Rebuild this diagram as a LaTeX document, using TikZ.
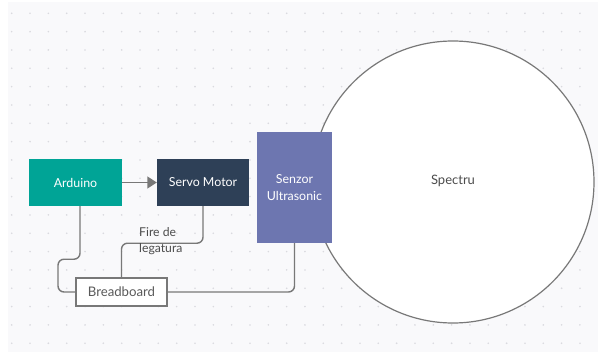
\documentclass[tikz,border=0pt]{standalone}
\usepackage{fontspec}
\setmainfont{Lato}
\usepackage{tikz}
\definecolor{bgpaper}{RGB}{249, 249, 251}
\definecolor{griddot}{RGB}{218, 218, 223}
\definecolor{wiregray}{RGB}{120, 120, 120}
\definecolor{tealbox}{RGB}{0, 164, 150}
\definecolor{navybox}{RGB}{46, 64, 87}
\definecolor{purplebox}{RGB}{109, 118, 176}
\usetikzlibrary{arrows.meta, positioning}

\begin{document}
\begin{tikzpicture}[
    x=1pt, y=-1pt,
    box/.style={rectangle, draw=none, text=white, font=\fontsize{12.4}{16.5}\selectfont, align=center, inner sep=0pt},
    wire/.style={draw=wiregray, line width=1.4pt, rounded corners=6pt},
    arrow/.style={wire, -{Triangle[length=9.5pt, width=12pt]}}
]
    \useasboundingbox (0, 0) rectangle (598, 356);
    % Background
    \fill[bgpaper] (8, 2) rectangle (598, 352);
    \foreach \i in {0,...,31} {
        \foreach \j in {0,...,18} {
            \fill[griddot] (11.7 + 18.33*\i, 13.3 + 18.33*\j) circle (0.9pt);
        }
    }

    \node[circle, draw=wiregray, line width=1.2pt, fill=white, minimum size=282pt, inner sep=0pt, font=\fontsize{13}{15}\selectfont, text=black!70] (spectru) at (453, 182) {\raisebox{4pt}{Spectru}};

    \node[box, fill=tealbox, minimum width=93pt, minimum height=47pt] (arduino) at (75.5, 182.5) {Arduino};
    \node[box, fill=navybox, minimum width=92pt, minimum height=47pt] (servo) at (203, 182.5) {Servo Motor};
    \node[box, fill=purplebox, minimum width=75pt, minimum height=111pt] (sensor) at (294.5, 187.5) {Senzor\\Ultrasonic};
    \node[rectangle, draw=wiregray, line width=1.4pt, fill=white, minimum width=91pt, minimum height=28pt, inner sep=0pt, font=\fontsize{13.2}{15}\selectfont, text=black!65] (bread) at (121.5, 292) {Breadboard};

    \draw[arrow] (arduino) -- (servo);
    \draw[wire] ([xshift=4.5pt]arduino.south) |- ++(-22, 53) |- (bread.west);
    \draw[wire] (servo.south) -- ++(0, 37) -| (bread.north);
    \draw[wire] (sensor.south) |- (bread.east);

    % Labels
    \node[anchor=west, align=left, inner sep=0pt, font=\fontsize{12.2}{16}\selectfont, text=black!70] (firelbl) at (139, 241) {Fire de\\legatura};
\end{tikzpicture}
\end{document}
